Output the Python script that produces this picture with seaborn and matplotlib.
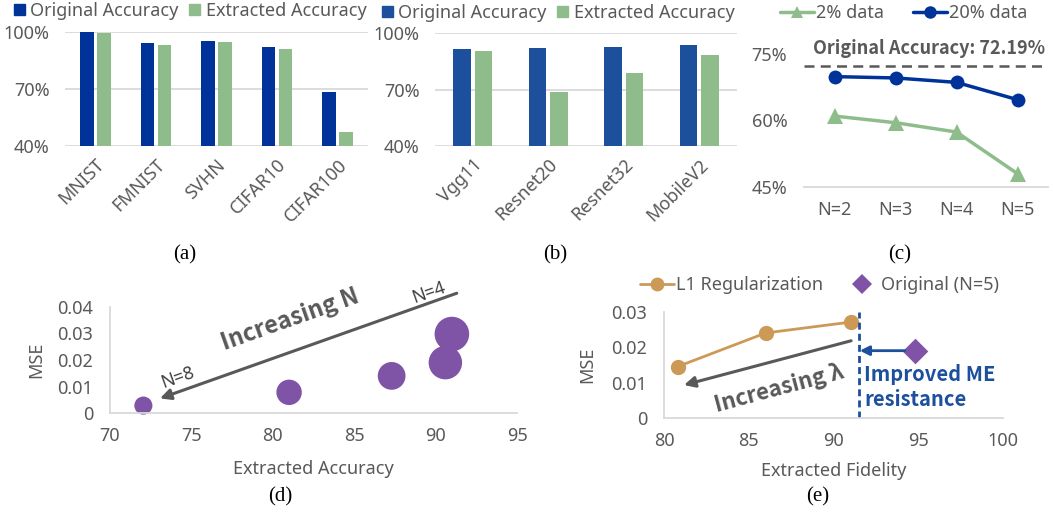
import pandas as pd
import matplotlib
matplotlib.use("Agg")
import matplotlib.pyplot as plt
from matplotlib.patches import Patch
from matplotlib.lines import Line2D
import seaborn as sns

# (a) accuracy per dataset
datasets = ["MNIST", "FMNIST", "SVHN", "CIFAR10", "CIFAR100"]
orig_a = [99.7, 93.9, 95.3, 91.8, 68.5]
extr_a = [99.2, 92.9, 94.4, 90.8, 47.2]

# (b) accuracy per model
models = ["Vgg11", "Resnet20", "Resnet32", "MobileV2"]
orig_b = [91.6, 92.2, 92.5, 93.6]
extr_b = [90.6, 68.9, 78.7, 88.3]

# (c) accuracy vs N
n_labels = ["N=2", "N=3", "N=4", "N=5"]
acc_2pct = [61.0, 59.5, 57.4, 48.0]
acc_20pct = [69.9, 69.6, 68.6, 64.7]
orig_acc_c = 72.19

# (d) MSE vs extracted accuracy, bubble size = N
n_bubbles = [8, 7, 6, 5, 4]
acc_d = [72.05, 81.0, 87.3, 90.6, 91.0]
mse_d = [0.0028, 0.0078, 0.014, 0.019, 0.0298]

# (e) L1 regularization
fid_l1 = [80.8, 86.0, 91.06]
mse_l1 = [0.0145, 0.024, 0.0271]
fid_orig = [94.8]
mse_orig = [0.019]

W, H = 1053, 513
GRAY = "#595959"
LIGHT = "#d9d9d9"
GREEN = "#8fbc8b"
BLUE_A = "#00339a"
BLUE_B = "#1c4f9c"
PURPLE = "#7f53a5"
ORANGE = "#cc9a56"
FS = 13
BOLD = ["Noto Sans CJK SC", "DejaVu Sans"]  # plain Noto Sans has no bold face here

sns.set_theme(style="white")
plt.rcParams["font.family"] = ["Noto Sans", "DejaVu Sans"]
plt.rcParams["text.color"] = GRAY
plt.rcParams["axes.labelcolor"] = GRAY

fig = plt.figure(figsize=(W / 100, H / 100), dpi=100)


def px_axes(left, top, right, bottom):
    return fig.add_axes([left / W, 1 - bottom / H, (right - left) / W, (bottom - top) / H])


def bar_panel(ax, cats, orig, extr, c_orig, width, gap):
    df = pd.DataFrame({
        "cat": cats * 2,
        "acc": orig + extr,
        "series": ["Original Accuracy"] * len(cats) + ["Extracted Accuracy"] * len(cats),
    })
    sns.barplot(data=df, x="cat", y="acc", hue="series", palette=[c_orig, GREEN],
                width=width, gap=gap, saturation=1, legend=False, linewidth=0, ax=ax)
    ax.set_ylim(40, 100)
    ax.set_xlim(-0.5, len(cats) - 0.5)
    ax.set_yticks([40, 70, 100])
    ax.set_yticklabels(["40%", "70%", "100%"])
    ax.yaxis.grid(True, color=LIGHT, lw=1.3)
    ax.set_axisbelow(True)
    for s in ax.spines.values():
        s.set_visible(False)
    ax.tick_params(axis="y", length=0, labelsize=FS, colors=GRAY, pad=11)
    ax.tick_params(axis="x", length=0, labelsize=FS, colors=GRAY, pad=7)
    plt.setp(ax.get_xticklabels(), rotation=45, ha="right", rotation_mode="anchor")
    ax.set_xlabel("")
    ax.set_ylabel("")
    handles = [Patch(color=c_orig), Patch(color=GREEN)]
    return handles


# ---- (a)
ax_a = px_axes(65, 31.7, 368, 146)
h = bar_panel(ax_a, datasets, orig_a, extr_a, BLUE_A, 0.56, 0.2)
fig.legend(h, ["Original Accuracy", "Extracted Accuracy"], loc="center left",
           bbox_to_anchor=(14 / W, 1 - 11 / H), ncol=2, frameon=False, fontsize=FS,
           handlelength=0.6, handleheight=0.6, handletextpad=0.3, columnspacing=0.6,
           borderaxespad=0, borderpad=0)

# ---- (b)
ax_b = px_axes(435, 33.3, 737, 146)
h = bar_panel(ax_b, models, orig_b, extr_b, BLUE_B, 0.565, 0.19)
fig.legend(h, ["Original Accuracy", "Extracted Accuracy"], loc="center left",
           bbox_to_anchor=(382 / W, 1 - 13 / H), ncol=2, frameon=False, fontsize=FS,
           handlelength=0.6, handleheight=0.6, handletextpad=0.3, columnspacing=0.6,
           borderaxespad=0, borderpad=0)

# ---- (c)
ax_c = px_axes(804, 54, 1048, 187)
sns.lineplot(x=n_labels, y=acc_2pct, color=GREEN, marker="^", markersize=11,
             markeredgewidth=0, lw=2.5, sort=False, ax=ax_c)
sns.lineplot(x=n_labels, y=acc_20pct, color=BLUE_A, marker="o", markersize=10,
             markeredgewidth=0, lw=2.5, sort=False, ax=ax_c)
ax_c.axhline(orig_acc_c, color=GRAY, lw=1.8, ls=(0, (4, 2.5)))
ax_c.text(-0.36, 76.3, "Original Accuracy: 72.19%", fontsize=FS, fontweight="bold",
          family=BOLD, color=GRAY, ha="left", va="center")
ax_c.set_xlim(-0.5, 3.5)
ax_c.set_ylim(45, 75)
ax_c.set_yticks([45, 60, 75])
ax_c.set_yticklabels(["45%", "60%", "75%"])
for s in ["top", "right", "left"]:
    ax_c.spines[s].set_visible(False)
ax_c.spines["bottom"].set_color(LIGHT)
ax_c.spines["bottom"].set_linewidth(1.3)
ax_c.tick_params(axis="y", length=0, labelsize=FS, colors=GRAY, pad=12)
ax_c.tick_params(axis="x", length=0, labelsize=FS, colors=GRAY, pad=10)
ax_c.set_xlabel("")
ax_c.set_ylabel("")
fig.legend([Line2D([], [], color=GREEN, marker="^", ms=9, lw=2.5, mew=0),
            Line2D([], [], color=BLUE_A, marker="o", ms=9, lw=2.5, mew=0)],
           ["2% data", "20% data"], loc="center left", bbox_to_anchor=(780 / W, 1 - 13 / H),
           ncol=2, frameon=False, fontsize=FS, handlelength=1.9, handletextpad=0.1,
           columnspacing=1.6, borderaxespad=0, borderpad=0)

# ---- (d)
ax_d = px_axes(110, 307, 517, 413)
size_map = {4: 620, 5: 580, 6: 400, 7: 335, 8: 170}
sns.scatterplot(x=acc_d, y=mse_d, size=n_bubbles, sizes=size_map, color=PURPLE,
                linewidth=0, alpha=1, legend=False, clip_on=False, ax=ax_d)
ax_d.set_xlim(70, 95)
ax_d.set_ylim(0, 0.04)
ax_d.set_xticks([70, 75, 80, 85, 90, 95])
ax_d.set_yticks([0, 0.01, 0.02, 0.03, 0.04])
ax_d.set_yticklabels(["0", "0.01", "0.02", "0.03", "0.04"])
ax_d.annotate("", xy=(73.07, 0.0055), xytext=(91.3, 0.0452), annotation_clip=False,
              arrowprops=dict(arrowstyle="-|>", color=GRAY, lw=2.2, mutation_scale=16,
                              shrinkA=0, shrinkB=0))
ax_d.text(81.07, 0.0351, "Increasing N", fontsize=17, fontweight="bold", family=BOLD,
          color=GRAY, rotation=19.5, rotation_mode="anchor", ha="center", va="center")
ax_d.text(89.56, 0.0453, "N=4", fontsize=FS, color="#404040", rotation=19.5,
          rotation_mode="anchor", ha="center", va="center")
ax_d.text(74.18, 0.0132, "N=8", fontsize=FS, color="#404040", rotation=19.5,
          rotation_mode="anchor", ha="center", va="center")
ax_d.set_xlabel("Extracted Accuracy", fontsize=FS, color=GRAY)
ax_d.set_ylabel("MSE", fontsize=FS, color=GRAY)
ax_d.xaxis.set_label_coords(0.5, -0.44)
ax_d.yaxis.set_label_coords(-0.16, 0.5)

# ---- (e)
ax_e = px_axes(664, 311.7, 1003, 418)
sns.lineplot(x=fid_l1, y=mse_l1, color=ORANGE, marker="o", markersize=11,
             markeredgewidth=0, lw=2, ax=ax_e)
sns.scatterplot(x=fid_orig, y=mse_orig, marker="D", color=PURPLE, s=170,
                linewidth=0, ax=ax_e)
ax_e.axvline(91.5, color=BLUE_B, lw=2, ls=(0, (2.5, 1.5)))
ax_e.annotate("", xy=(91.55, 0.019), xytext=(94.2, 0.019),
              arrowprops=dict(arrowstyle="-|>", color=BLUE_B, lw=2, mutation_scale=14,
                              shrinkA=0, shrinkB=0))
ax_e.text(91.82, 0.0152, "Improved ME\nresistance", fontsize=14.5, fontweight="bold",
          family=BOLD, color=BLUE_B, ha="left", va="top", linespacing=1.2)
ax_e.annotate("", xy=(81.18, 0.0093), xytext=(91.04, 0.0218),
              arrowprops=dict(arrowstyle="-|>", color=GRAY, lw=2.2, mutation_scale=16,
                              shrinkA=0, shrinkB=0))
ax_e.text(86.82, 0.0083, "Increasing λ", fontsize=16, fontweight="bold", family=BOLD,
          color=GRAY, rotation=15, rotation_mode="anchor", ha="center", va="center")
ax_e.set_xlim(80, 100)
ax_e.set_ylim(0, 0.03)
ax_e.set_xticks([80, 85, 90, 95, 100])
ax_e.set_yticks([0, 0.01, 0.02, 0.03])
ax_e.set_yticklabels(["0", "0.01", "0.02", "0.03"])
ax_e.set_xlabel("Extracted Fidelity", fontsize=FS, color=GRAY)
ax_e.set_ylabel("MSE", fontsize=FS, color=GRAY)
ax_e.xaxis.set_label_coords(0.5, -0.41)
ax_e.yaxis.set_label_coords(-0.2, 0.5)
fig.legend([Line2D([], [], color=ORANGE, marker="o", ms=10, lw=2, mew=0),
            Line2D([], [], color=PURPLE, marker="D", ms=10, lw=0, mew=0)],
           ["L1 Regularization", "Original (N=5)"], loc="center left",
           bbox_to_anchor=(640 / W, 1 - 285 / H), ncol=2, frameon=False, fontsize=FS,
           handlelength=1.9, handletextpad=0.1, columnspacing=1.2,
           borderaxespad=0, borderpad=0)

for ax in (ax_d, ax_e):
    for s in ["top", "right"]:
        ax.spines[s].set_visible(False)
    for s in ["left", "bottom"]:
        ax.spines[s].set_color(LIGHT)
        ax.spines[s].set_linewidth(1.3)
    ax.tick_params(axis="both", length=0, labelsize=FS, colors=GRAY)
    ax.tick_params(axis="y", pad=12)
    ax.tick_params(axis="x", pad=10)

# panel captions
for x, y, lab in [(185, 255, "(a)"), (555, 255, "(b)"), (900, 255, "(c)"),
                  (280, 497, "(d)"), (818, 497, "(e)")]:
    fig.text(x / W, 1 - y / H, lab, fontsize=15, color="black", ha="center", va="center",
             family=["Liberation Serif", "DejaVu Serif"])

fig.savefig("out.png", dpi=100)
